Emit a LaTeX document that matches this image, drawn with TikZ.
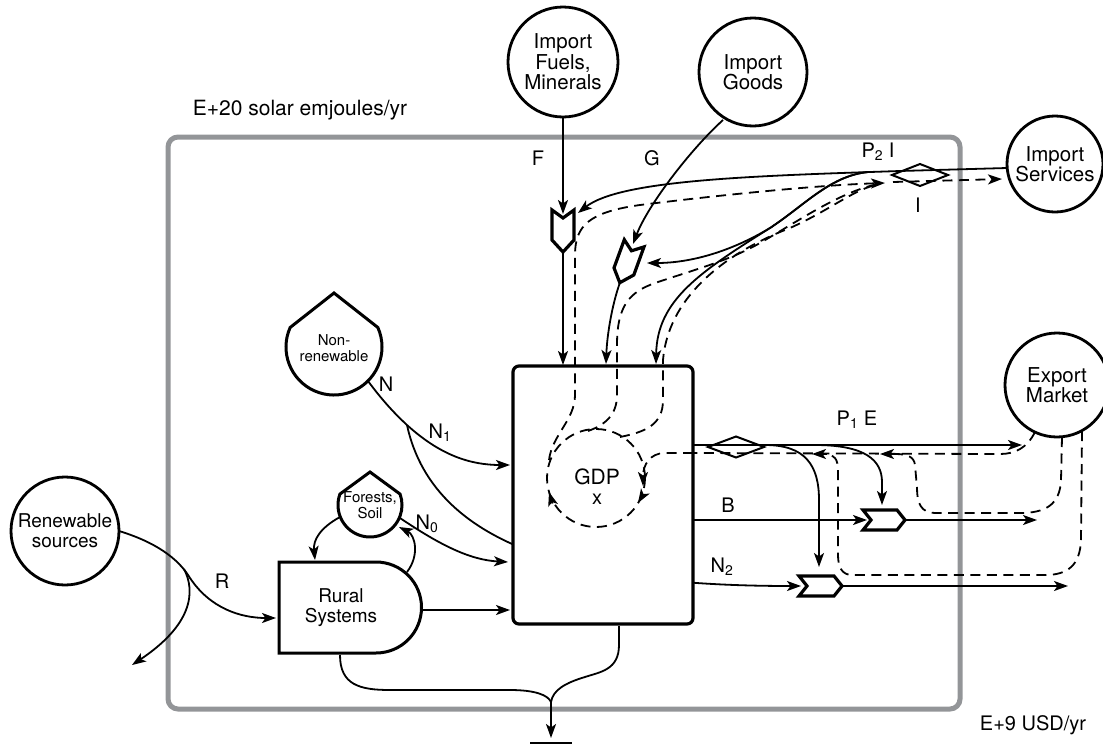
\documentclass[tikz,border=0pt]{standalone}
\usepackage{fontspec}
\setmainfont{TeX Gyre Heros}
\usetikzlibrary{arrows.meta}
\definecolor{sysgray}{RGB}{147,149,152}
\begin{document}
\begin{tikzpicture}[x=1pt,y=-1pt,
  every node/.style={font=\fontsize{20}{21}\selectfont, inner sep=0pt, outer sep=0pt},
  src/.style={circle, draw, line width=2.8pt, align=center, font=\fontsize{20.5}{20.5}\selectfont},
  flow/.style={line width=1.8pt},
  money/.style={line width=1.8pt, dash pattern=on 10pt off 6.5pt},
  tank/.style={line width=3pt, line join=miter},
  xch/.style={line width=3.2pt, line join=miter},
  dmd/.style={line width=2pt},
  small/.style={font=\fontsize{15}{15.5}\selectfont, align=center},
  >={Stealth[length=14pt,width=10pt,inset=3.5pt]}
]
\useasboundingbox (0,0) rectangle (1103,747);

% system boundary
\draw[line width=5pt, draw=sysgray, rounded corners=10pt] (168,137) rectangle (960,709);
\node[font=\fontsize{21}{22}\selectfont] (lblem) at (300,110) {E+20 solar emjoules/yr};
\node[font=\fontsize{20}{21}\selectfont] (lblusd) at (1033,725) {E+9 USD/yr};

% sources
\node[src, minimum size=110pt] (fuel) at (563,62) {Import\\Fuels,\\Minerals};
\node[src, minimum size=108pt] (goods) at (753,72) {Import\\Goods};
\node[src, minimum size=96pt] (serv) at (1055,164) {Import\\Services};
\node[src, minimum size=104pt] (exp) at (1057,385) {Export\\Market};
\node[src, minimum size=108pt, font=\fontsize{19}{20}\selectfont] (ren) at (65,531) {Renewable\\sources};

% tanks
\draw[tank] (334,293) -- (290.15,327.48) arc[start angle=204, end angle=-24, radius=48] -- cycle;
\node[small] (nrtxt) at (334,348) {Non-\\renewable};
\draw[tank] (370,472) -- (339.93,494.06) arc[start angle=200, end angle=-20, radius=32] -- cycle;
\node[small] (fstxt) at (370,505) {Forests,\\Soil};

% rural systems
\draw[tank] (279,562) -- (376,562) arc[start angle=-90, end angle=90, radius=45.5] -- (279,653) -- cycle;
\node[align=center, font=\fontsize{19}{20}\selectfont] (rural) at (341,608) {Rural\\Systems};

% N flows (N2 passes behind the box)
\coordinate (nbr) at (407,425);
\draw[flow] (368,381) .. controls (382,400) and (395,414) .. (nbr);
\draw[flow,->] (nbr) .. controls (440,455) and (470,465) .. (510,465);
\draw[flow,->] (nbr) .. controls (435,555) and (600,586) .. (801,586);

% GDP box
\node[draw, line width=3.2pt, rounded corners=6pt, fill=white, minimum width=180pt, minimum height=258pt] (box) at (603,495) {};
\node[font=\fontsize{21}{22}\selectfont] (gdp) at (597,477) {GDP};
\node (gx) at (597,499) {x};
\draw[money] (596,478) circle[radius=49];
\draw[flow,->] (552.5,503.5) -- (549,492);
\draw[flow,->] (643.5,494) -- (638,503);

% forests / rural flows
\draw[flow,->] (400,518) .. controls (440,545) and (470,560) .. (508,562);
\draw[flow,->] (340,517) .. controls (320,528) and (313,540) .. (315,560);
\draw[flow,->] (407,572) .. controls (420,555) and (415,535) .. (399,527);
\draw[flow,->] (422,610) -- (510,610);

% renewable
\draw[flow,->] (ren.east) .. controls (155,542) and (178,558) .. (190,578) .. controls (210,608) and (240,618) .. (276,618);
\draw[flow,->] (184,569) .. controls (196,592) and (192,625) .. (132,665);

% heat sink
\coordinate (hs) at (551,702);
\draw[flow] (340,655) .. controls (340,685) and (360,690) .. (390,690) -- (510,690) .. controls (535,690) and (548,695) .. (hs);
\draw[flow] (619,626) -- (619,645) .. controls (619,670) and (600,672) .. (585,677) .. controls (565,683) and (553,690) .. (hs);
\draw[flow,->] (hs) -- (551,738);
\draw[line width=2.2pt] (530,743) -- (572,743);

% imports: F
\draw[flow,->] (fuel.south) -- (563,214);
\draw[xch] (552,210) -- (563,218) -- (574,210) -- (574,240) -- (563,252) -- (552,240) -- cycle;
\draw[flow,->] (563,252) -- (563,365);
\node (lf) at (538,158) {F};

% imports: G
\draw[flow,->] (723,120) .. controls (690,150) and (648,205) .. (633,244);
\draw[xch] (624.3,239.7) -- (631.5,250.8) -- (644,246.9) -- (633.8,275) -- (619.8,282.7) -- (614,267.9) -- cycle;
\draw[flow,->] (619.8,283) .. controls (612,305) and (607,335) .. (606,364);
\node (lg) at (652,158) {G};

% import services
\draw[dmd] (892,175) -- (920,164) -- (948,175) -- (920,186) -- cycle;
\node (lp2) at (878,152) {P\textsubscript{2} I};
\node (li) at (918,205) {I};
\coordinate (sj) at (868,172);
\draw[flow,->] (1007,168) -- (900,171) .. controls (750,176) and (620,180) .. (578,213);
\draw[flow,->] (sj) .. controls (830,176) and (805,205) .. (770,228) .. controls (730,252) and (690,263) .. (647,263);
\draw[flow,->] (sj) .. controls (830,176) and (805,205) .. (770,228) .. controls (700,272) and (657,300) .. (656,364);

\draw[money,->] (549,460) .. controls (552,435) and (575,420) .. (575,395) -- (575,255) .. controls (575,225) and (590,212) .. (640,205) .. controls (720,195) and (820,185) .. (885,183);
\draw[money] (588,431) .. controls (605,425) and (617,415) .. (617,395) -- (617,345) .. controls (617,305) and (630,292) .. (655,283) .. controls (700,268) and (730,260) .. (760,243) .. controls (800,220) and (840,192) .. (878,184);
\draw[money] (620,437) .. controls (645,432) and (663,425) .. (663,400) -- (663,360) .. controls (668,300) and (720,255) .. (790,228) .. controls (830,210) and (850,192) .. (875,185);
\draw[money,->] (893,182) -- (1002,179);

% exports
\draw[flow,->] (693,445) -- (1022,445);
\draw[dmd] (708,447) -- (736,436.5) -- (764,447) -- (736,457.5) -- cycle;
\node (lp1) at (857,420) {P\textsubscript{1} E};
\draw[flow,->] (765,445) .. controls (805,445) and (819,465) .. (819,500) -- (819,567);
\draw[flow,->] (815,445) .. controls (865,445) and (882,460) .. (882,482) -- (882,505);

\draw[flow,->] (693,520) -- (867,520);
\draw[xch] (863,510) -- (897,510) -- (905,520) -- (897,530) -- (863,530) -- (871,520) -- cycle;
\draw[flow,->] (905,520) -- (1037,520);
\node (lb) at (728,505) {B};

\draw[xch] (799,576) -- (834,576) -- (842,586) -- (834,596) -- (799,596) -- (807,586) -- cycle;
\draw[flow,->] (842,586) -- (1068,586);
\node (ln2) at (722,567) {N\textsubscript{2}};

% export money
\draw[money] (1035,432) .. controls (1027,448) and (1015,454) .. (1000,454) -- (693,453);
\draw[money,->] (693,453) -- (665,453) .. controls (650,453) and (643,465) .. (643,486);
\draw[flow,->] (827,454) -- (812,454);
\draw[flow,->] (895,454) -- (880,454);
\draw[money] (1062,437) -- (1061,480) .. controls (1060,505) and (1045,513) .. (1020,513) -- (935,513) .. controls (921,513) and (917,503) .. (917,488) -- (915,465) .. controls (914,457) and (908,454) .. (895,454);
\draw[money] (1082,431) -- (1081,540) .. controls (1080,565) and (1068,575) .. (1045,575) -- (852,575) .. controls (842,575) and (838,567) .. (838,555) -- (838,470) .. controls (838,459) and (834,455) .. (827,454);

% labels
\node (ln) at (386,384) {N};
\node (ln1) at (440,433) {N\textsubscript{1}};
\node (ln0) at (427,524) {N\textsubscript{0}};
\node (lr) at (222,581) {R};
\end{tikzpicture}
\end{document}
